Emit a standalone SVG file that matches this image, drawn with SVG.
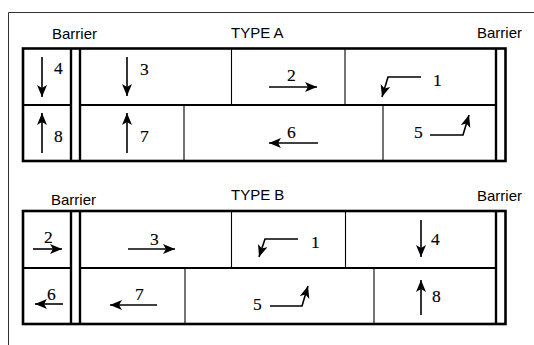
<svg xmlns="http://www.w3.org/2000/svg" width="534" height="345" viewBox="0 0 534 345">
  <defs>
    <marker id="head" markerUnits="userSpaceOnUse" markerWidth="13" markerHeight="11" refX="12" refY="5" orient="auto">
      <path d="M0,0 L12,5 L0,10 L3,5 z" fill="#000"/>
    </marker>
  </defs>
  <style>
    .frame { fill: none; stroke: #333; stroke-width: 1; }
    .box { fill: none; stroke: #000; stroke-width: 2.6; }
    .bar { stroke: #000; stroke-width: 2.4; }
    .mid { stroke: #000; stroke-width: 2.2; }
    .div { stroke: #000; stroke-width: 1.1; }
    .arr { fill: none; stroke: #000; stroke-width: 1.6; marker-end: url(#head); }
    .cap { font-family: "Liberation Sans", Arial, sans-serif; font-size: 15px; fill: #000; }
    .num { font-family: "Liberation Serif", "Times New Roman", serif; font-size: 17.5px; fill: #000; stroke: #000; stroke-width: 0.15; }
  </style>

  <rect width="534" height="345" fill="#fff"/>

  <!-- surrounding frame -->
  <path class="frame" d="M8.5,345 V12.5 H534"/>

  <!-- TYPE A table -->
  <g id="type-a">
    <text class="cap" x="52" y="39">Barrier</text>
    <text class="cap" x="231" y="38">TYPE A</text>
    <text class="cap" x="477" y="38">Barrier</text>
    <rect class="box" x="23" y="48.5" width="482.5" height="112.5"/>
    <line class="bar" x1="71" y1="48.5" x2="71" y2="161"/>
    <line class="bar" x1="80" y1="48.5" x2="80" y2="161"/>
    <line class="bar" x1="496" y1="48.5" x2="496" y2="161"/>
    <line class="mid" x1="23" y1="105" x2="71" y2="105"/>
    <line class="mid" x1="80" y1="105" x2="496" y2="105"/>
    <line class="div" x1="231.5" y1="48.5" x2="231.5" y2="105"/>
    <line class="div" x1="345" y1="48.5" x2="345" y2="105"/>
    <line class="div" x1="184" y1="105" x2="184" y2="161"/>
    <line class="div" x1="383" y1="105" x2="383" y2="161"/>
  </g>

  <g id="a-lane-4">
    <path class="arr" d="M42,57 V97"/>
    <text class="num" x="54" y="74">4</text>
  </g>
  <g id="a-lane-3">
    <path class="arr" d="M127,57 V96"/>
    <text class="num" x="140" y="75">3</text>
  </g>
  <g id="a-lane-2">
    <path class="arr" d="M269,87 H317"/>
    <text class="num" x="287" y="81">2</text>
  </g>
  <g id="a-lane-1">
    <path class="arr" d="M421,77 H388 L382,97"/>
    <text class="num" x="433" y="86">1</text>
  </g>
  <g id="a-lane-8">
    <path class="arr" d="M42,153 V113"/>
    <text class="num" x="54" y="142">8</text>
  </g>
  <g id="a-lane-7">
    <path class="arr" d="M127,153 V113"/>
    <text class="num" x="140" y="142">7</text>
  </g>
  <g id="a-lane-6">
    <path class="arr" d="M318,143 H269"/>
    <text class="num" x="287" y="138">6</text>
  </g>
  <g id="a-lane-5">
    <path class="arr" d="M430,135 H463 L469,115"/>
    <text class="num" x="414" y="138">5</text>
  </g>

  <!-- TYPE B table -->
  <g id="type-b">
    <text class="cap" x="51" y="205">Barrier</text>
    <text class="cap" x="231" y="200">TYPE B</text>
    <text class="cap" x="477" y="201">Barrier</text>
    <rect class="box" x="23" y="211" width="482.5" height="113"/>
    <line class="bar" x1="71" y1="211" x2="71" y2="324"/>
    <line class="bar" x1="80" y1="211" x2="80" y2="324"/>
    <line class="bar" x1="496" y1="211" x2="496" y2="324"/>
    <line class="mid" x1="23" y1="268" x2="71" y2="268"/>
    <line class="mid" x1="80" y1="268" x2="496" y2="268"/>
    <line class="div" x1="231.5" y1="211" x2="231.5" y2="268" stroke-width="1.7"/>
    <line class="div" x1="345.5" y1="211" x2="345.5" y2="268" stroke-width="1.7"/>
    <line class="div" x1="185" y1="268" x2="185" y2="324"/>
    <line class="div" x1="374" y1="268" x2="374" y2="324"/>
  </g>

  <g id="b-lane-2">
    <path class="arr" d="M33,249 H62"/>
    <text class="num" x="44" y="243">2</text>
  </g>
  <g id="b-lane-3">
    <path class="arr" d="M128,249 H175"/>
    <text class="num" x="150" y="245">3</text>
  </g>
  <g id="b-lane-1">
    <path class="arr" d="M298,239 H265 L259,257"/>
    <text class="num" x="311" y="248">1</text>
  </g>
  <g id="b-lane-4">
    <path class="arr" d="M421,220 V257"/>
    <text class="num" x="431" y="245">4</text>
  </g>
  <g id="b-lane-6">
    <path class="arr" d="M63,304 H35"/>
    <text class="num" x="47" y="300">6</text>
  </g>
  <g id="b-lane-7">
    <path class="arr" d="M157,305 H110"/>
    <text class="num" x="135" y="300">7</text>
  </g>
  <g id="b-lane-5">
    <path class="arr" d="M270,306 H302 L308,286"/>
    <text class="num" x="253" y="310">5</text>
  </g>
  <g id="b-lane-8">
    <path class="arr" d="M421,315 V280"/>
    <text class="num" x="432" y="302">8</text>
  </g>
</svg>
